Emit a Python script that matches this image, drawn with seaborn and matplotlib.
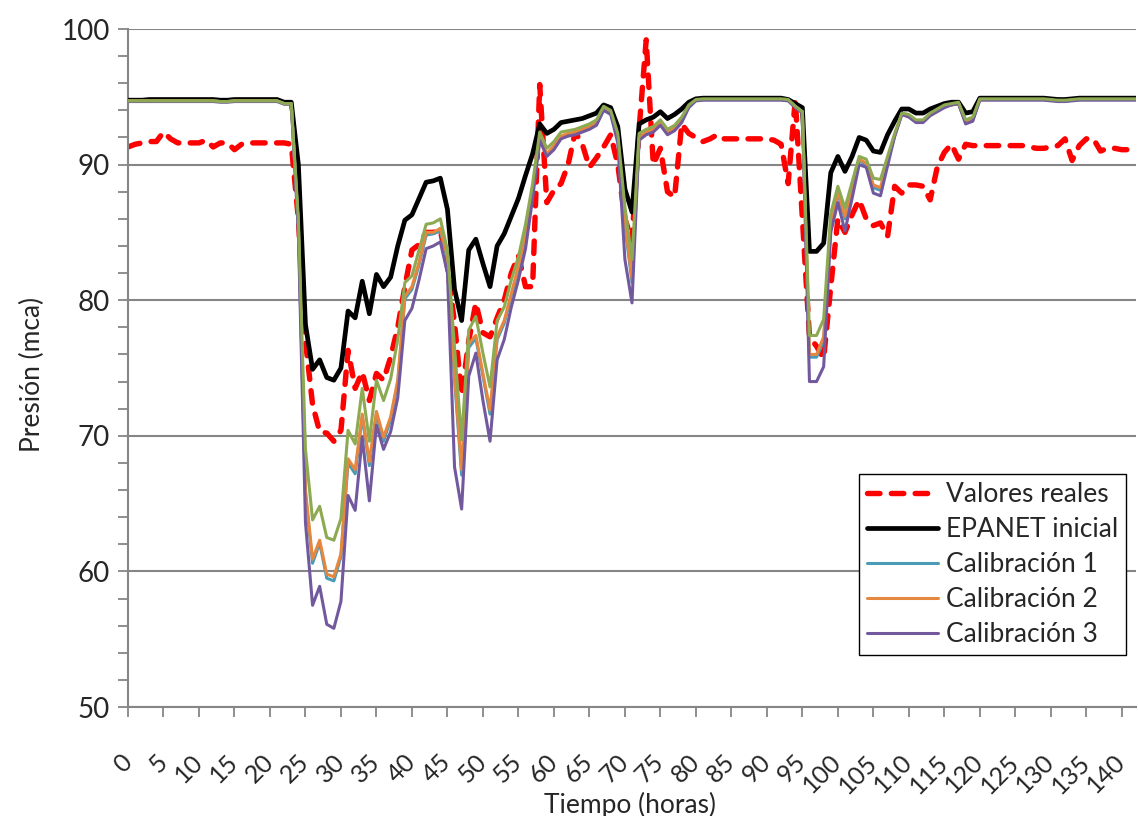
import matplotlib
matplotlib.use("Agg")
import matplotlib.pyplot as plt
import seaborn as sns
from matplotlib.ticker import MultipleLocator

# Horas de simulación
horas = list(range(143))

valores_reales = [
    91.3, 91.5, 91.6, 91.7, 91.7, 92.4, 91.9, 91.6, 91.6, 91.6,
    91.6, 91.8, 91.3, 91.6, 91.6, 91.1, 91.5, 91.6, 91.6, 91.6,
    91.6, 91.6, 91.6, 91.5, 86.0, 77.0, 72.3, 70.3, 70.2, 69.6,
    70.4, 76.3, 73.5, 74.7, 72.6, 74.6, 74.1, 75.8, 78.0, 81.0,
    83.7, 84.1, 85.0, 85.0, 85.2, 82.5, 78.3, 73.0, 77.0, 79.8,
    77.6, 77.3, 78.7, 80.0, 82.0, 83.3, 81.0, 81.0, 95.9, 87.2,
    88.1, 88.6, 90.0, 92.4, 91.5, 89.8, 90.5, 91.3, 92.2, 90.0,
    86.0, 84.4, 92.6, 99.2, 90.0, 91.2, 88.0, 87.6, 93.0, 92.3,
    92.0, 91.7, 91.9, 92.2, 91.9, 91.9, 91.9, 91.9, 91.9, 91.9,
    91.9, 91.8, 91.5, 88.6, 94.8, 86.0, 77.3, 76.6, 75.7, 81.0,
    86.0, 85.0, 86.3, 87.4, 86.0, 85.5, 85.7, 84.7, 88.4, 87.9,
    88.5, 88.5, 88.4, 87.4, 89.8, 90.9, 91.5, 90.4, 91.5, 91.4,
    91.4, 91.4, 91.4, 91.4, 91.4, 91.4, 91.4, 91.3, 91.2, 91.2,
    91.3, 91.4, 91.9, 90.3, 91.4, 91.9, 91.9, 91.0, 91.2, 91.2,
    91.1, 91.1, 91.1,
]

epanet_inicial = [
    94.75, 94.75, 94.75, 94.8, 94.8, 94.8, 94.8, 94.8, 94.8, 94.8,
    94.8, 94.8, 94.8, 94.75, 94.75, 94.8, 94.8, 94.8, 94.8, 94.8,
    94.8, 94.8, 94.6, 94.6, 90.0, 78.2, 74.9, 75.6, 74.3, 74.1,
    75.0, 79.2, 78.7, 81.4, 79.0, 81.9, 81.0, 81.7, 84.0, 85.9,
    86.3, 87.5, 88.7, 88.8, 89.0, 86.7, 80.8, 78.5, 83.7, 84.5,
    82.7, 81.0, 84.0, 84.9, 86.2, 87.5, 89.2, 90.8, 93.0, 92.3,
    92.6, 93.1, 93.2, 93.3, 93.4, 93.6, 93.8, 94.4, 94.2, 92.8,
    88.2, 86.5, 93.0, 93.3, 93.5, 93.9, 93.4, 93.7, 94.1, 94.6,
    94.85, 94.9, 94.9, 94.9, 94.9, 94.9, 94.9, 94.9, 94.9, 94.9,
    94.9, 94.9, 94.9, 94.8, 94.5, 94.2, 83.6, 83.6, 84.2, 89.4,
    90.6, 89.5, 90.6, 92.0, 91.8, 91.0, 90.9, 92.2, 93.2, 94.1,
    94.1, 93.8, 93.8, 94.1, 94.3, 94.5, 94.6, 94.6, 93.8, 93.9,
    94.9, 94.9, 94.9, 94.9, 94.9, 94.9, 94.9, 94.9, 94.9, 94.9,
    94.85, 94.8, 94.8, 94.85, 94.9, 94.9, 94.9, 94.9, 94.9, 94.9,
    94.9, 94.9, 94.9,
]

calibracion_1 = [
    94.7, 94.7, 94.7, 94.7, 94.7, 94.7, 94.7, 94.7, 94.7, 94.7,
    94.7, 94.7, 94.7, 94.65, 94.65, 94.7, 94.7, 94.7, 94.7, 94.7,
    94.7, 94.7, 94.5, 94.5, 85.5, 65.7, 60.6, 62.1, 59.5, 59.3,
    61.1, 68.0, 67.2, 71.4, 67.8, 71.6, 69.6, 71.2, 73.9, 80.1,
    80.8, 82.6, 84.8, 84.9, 85.1, 83.0, 74.2, 67.1, 76.5, 77.2,
    74.4, 71.6, 77.1, 78.3, 80.3, 82.3, 84.6, 87.9, 92.0, 90.7,
    91.3, 92.0, 92.2, 92.3, 92.5, 92.7, 93.0, 94.1, 93.8, 91.9,
    85.5, 81.3, 91.9, 92.3, 92.5, 93.0, 92.3, 92.6, 93.2, 94.3,
    94.75, 94.8, 94.8, 94.8, 94.8, 94.8, 94.8, 94.8, 94.8, 94.8,
    94.8, 94.8, 94.8, 94.75, 94.3, 93.9, 75.8, 75.8, 77.0, 85.6,
    87.9, 86.0, 88.1, 90.3, 90.0, 88.3, 88.1, 90.2, 92.1, 93.7,
    93.6, 93.2, 93.2, 93.7, 94.0, 94.3, 94.4, 94.5, 93.1, 93.3,
    94.8, 94.8, 94.8, 94.8, 94.8, 94.8, 94.8, 94.8, 94.8, 94.8,
    94.75, 94.7, 94.7, 94.75, 94.8, 94.8, 94.8, 94.8, 94.8, 94.8,
    94.8, 94.8, 94.8,
]

calibracion_2 = [
    94.7, 94.7, 94.7, 94.7, 94.7, 94.7, 94.7, 94.7, 94.7, 94.7,
    94.7, 94.7, 94.7, 94.65, 94.65, 94.7, 94.7, 94.7, 94.7, 94.7,
    94.7, 94.7, 94.5, 94.5, 85.5, 66.0, 60.9, 62.3, 59.8, 59.6,
    61.3, 68.3, 67.5, 71.6, 68.1, 71.8, 69.9, 71.4, 74.1, 80.3,
    81.0, 82.8, 85.0, 85.0, 85.3, 83.2, 74.5, 67.5, 76.8, 77.4,
    74.6, 71.9, 77.3, 78.5, 80.5, 82.5, 84.8, 88.0, 92.0, 90.8,
    91.4, 92.1, 92.3, 92.4, 92.6, 92.8, 93.1, 94.1, 93.8, 92.0,
    85.8, 81.6, 92.0, 92.4, 92.6, 93.1, 92.4, 92.7, 93.3, 94.3,
    94.75, 94.8, 94.8, 94.8, 94.8, 94.8, 94.8, 94.8, 94.8, 94.8,
    94.8, 94.8, 94.8, 94.75, 94.3, 93.9, 76.0, 76.0, 77.3, 85.7,
    88.0, 86.2, 88.2, 90.4, 90.1, 88.5, 88.3, 90.3, 92.1, 93.7,
    93.6, 93.2, 93.2, 93.7, 94.0, 94.3, 94.4, 94.5, 93.1, 93.3,
    94.8, 94.8, 94.8, 94.8, 94.8, 94.8, 94.8, 94.8, 94.8, 94.8,
    94.75, 94.7, 94.7, 94.75, 94.8, 94.8, 94.8, 94.8, 94.8, 94.8,
    94.8, 94.8, 94.8,
]

calibracion_3 = [
    94.65, 94.65, 94.65, 94.65, 94.65, 94.65, 94.65, 94.65, 94.65, 94.65,
    94.65, 94.65, 94.65, 94.6, 94.6, 94.65, 94.65, 94.65, 94.65, 94.65,
    94.65, 94.65, 94.45, 94.45, 85.0, 63.6, 57.5, 58.9, 56.1, 55.8,
    57.8, 65.6, 64.5, 69.9, 65.2, 70.8, 69.0, 70.3, 72.8, 78.5,
    79.4, 81.5, 83.8, 84.0, 84.3, 82.0, 67.7, 64.6, 74.4, 76.1,
    72.6, 69.6, 75.6, 77.1, 79.5, 81.5, 83.8, 87.5, 91.8, 90.6,
    91.1, 91.9, 92.1, 92.2, 92.4, 92.6, 92.9, 94.0, 93.7, 91.6,
    83.0, 79.8, 91.8, 92.2, 92.4, 92.9, 92.2, 92.5, 93.1, 94.2,
    94.7, 94.75, 94.75, 94.75, 94.75, 94.75, 94.75, 94.75, 94.75, 94.75,
    94.75, 94.75, 94.75, 94.7, 94.2, 93.8, 74.0, 74.0, 75.1, 85.0,
    87.2, 85.1, 87.5, 90.0, 89.8, 87.9, 87.7, 89.9, 92.1, 93.7,
    93.5, 93.1, 93.1, 93.6, 93.9, 94.2, 94.4, 94.5, 93.0, 93.2,
    94.75, 94.75, 94.75, 94.75, 94.75, 94.75, 94.75, 94.75, 94.75, 94.75,
    94.7, 94.65, 94.65, 94.7, 94.75, 94.75, 94.75, 94.75, 94.75, 94.75,
    94.75, 94.75, 94.75,
]

# Serie adicional sin entrada en la leyenda
calibracion_extra = [
    94.7, 94.7, 94.7, 94.7, 94.7, 94.7, 94.7, 94.7, 94.7, 94.7,
    94.7, 94.7, 94.7, 94.65, 94.65, 94.7, 94.7, 94.7, 94.7, 94.7,
    94.7, 94.7, 94.5, 94.5, 86.0, 69.0, 63.8, 64.8, 62.5, 62.3,
    63.9, 70.4, 69.4, 73.5, 69.6, 74.1, 72.6, 74.2, 77.1, 81.3,
    81.8, 83.7, 85.6, 85.7, 86.0, 83.7, 76.5, 69.7, 77.8, 78.8,
    76.1, 73.6, 78.5, 79.5, 81.5, 83.2, 85.6, 88.6, 92.4, 91.2,
    91.7, 92.4, 92.5, 92.6, 92.8, 93.0, 93.3, 94.3, 94.0, 92.3,
    86.9, 83.0, 92.3, 92.6, 92.8, 93.3, 92.6, 92.9, 93.5, 94.4,
    94.8, 94.85, 94.85, 94.85, 94.85, 94.85, 94.85, 94.85, 94.85, 94.85,
    94.85, 94.85, 94.85, 94.8, 94.3, 93.9, 77.4, 77.4, 78.6, 86.4,
    88.4, 86.8, 88.7, 90.6, 90.4, 89.0, 88.9, 90.6, 92.3, 93.8,
    93.7, 93.3, 93.3, 93.8, 94.1, 94.4, 94.5, 94.6, 93.3, 93.5,
    94.85, 94.85, 94.85, 94.85, 94.85, 94.85, 94.85, 94.85, 94.85, 94.85,
    94.8, 94.75, 94.75, 94.8, 94.85, 94.85, 94.85, 94.85, 94.85, 94.85,
    94.85, 94.85, 94.85,
]

x_ticks = list(range(0, 141, 5))
y_ticks = [50, 60, 70, 80, 90, 100]

sns.set_theme(style="white")
plt.rcParams['font.family'] = ['Lato', 'DejaVu Sans']

fig = plt.figure(figsize=(11.38, 8.16), dpi=100)
ax = fig.add_axes([128 / 1138, 1 - 707 / 816, (1136 - 128) / 1138, (707 - 29) / 816])

series = [
    (valores_reales, 'Valores reales', '#FF0000', 3.9, 2),
    (epanet_inicial, 'EPANET inicial', '#000000', 3.4, 3),
    (calibracion_1, 'Calibración 1', '#4A9BB5', 2.2, 4),
    (calibracion_2, 'Calibración 2', '#E6873F', 2.2, 5),
    (calibracion_3, 'Calibración 3', '#72599E', 2.2, 6),
    (calibracion_extra, '_nolegend_', '#8DAA52', 2.2, 7),
]

for vals, name, color, lw, z in series:
    kw = {}
    if name == 'Valores reales':
        kw = dict(linestyle=(0, (2.3, 2.1)), dash_capstyle='round')
    sns.lineplot(x=horas, y=vals, ax=ax, color=color, linewidth=lw,
                 label=name, zorder=z, legend=False, **kw)

ax.set_xlim(0, 142)
ax.set_ylim(50, 100)
ax.set_xticks(x_ticks)
ax.set_xticklabels([str(t) for t in x_ticks])
ax.set_yticks(y_ticks)
ax.yaxis.set_minor_locator(MultipleLocator(2))

ax.yaxis.grid(True, color='#868686', linewidth=1.5)
ax.xaxis.grid(False)
ax.set_axisbelow(True)
for side in ['top', 'right']:
    ax.spines[side].set_visible(False)
for side in ['left', 'bottom']:
    ax.spines[side].set_color('#868686')
    ax.spines[side].set_linewidth(1.5)

ax.tick_params(axis='y', which='both', direction='out', length=7, width=1.3,
               color='#868686', pad=6, labelsize=20, left=True)
ax.tick_params(axis='x', which='major', direction='out', length=7, width=1.3,
               color='#868686', pad=30, labelsize=18, bottom=True)
plt.setp(ax.get_xticklabels(), rotation=45, ha='right', va='center',
         rotation_mode='anchor')

ax.set_xlabel('Tiempo (horas)', fontsize=19)
ax.xaxis.set_label_coords(0.498, -0.125)
ax.xaxis.label.set_va('top')
ax.set_ylabel('Presión (mca)', fontsize=19)
ax.yaxis.set_label_coords(-0.082, 0.49)

handles = [l for l in ax.get_lines() if not l.get_label().startswith('_')]
leg = ax.legend(handles=handles, labels=[h.get_label() for h in handles],
                loc='lower right', bbox_to_anchor=(0.990, 0.077),
                borderaxespad=0, fontsize=19, frameon=True, fancybox=False,
                edgecolor='black', framealpha=1, handlelength=2.7,
                handletextpad=0.3, labelspacing=0.38, borderpad=0.3)
leg.get_frame().set_linewidth(1.0)

fig.savefig('out.png', dpi=100)
